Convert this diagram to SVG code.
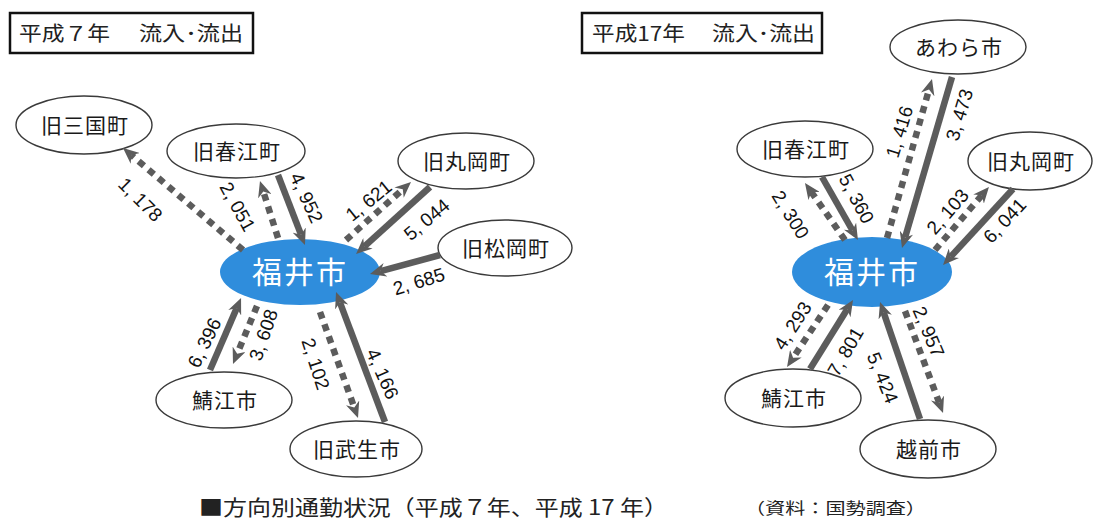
<svg xmlns="http://www.w3.org/2000/svg" width="1096" height="521" viewBox="0 0 1096 521">
<style>
.bg{fill:#ffffff}
.node ellipse{fill:#ffffff;stroke:#3a3a3a;stroke-width:1.4}
.node text{font-family:"Noto Sans CJK JP",sans-serif;font-size:21px;fill:#1a1a1a;text-anchor:middle;letter-spacing:1px}
.hub ellipse{fill:#2f8ddc;stroke:none}
.hub text{font-family:"Noto Sans CJK JP",sans-serif;font-size:30px;fill:#ffffff;text-anchor:middle;letter-spacing:2px}
.solid{stroke:#5c5c5c;stroke-width:6.5;fill:none;marker-end:url(#ah)}
.dot{stroke:#5c5c5c;stroke-width:6.5;fill:none;stroke-dasharray:7 6;marker-end:url(#ah)}
.lbl{font-family:"Liberation Sans",sans-serif;font-size:19px;fill:#111;text-anchor:middle}
.title rect{fill:#ffffff;stroke:#111;stroke-width:2.5}
.title text{font-family:"Noto Sans CJK JP",sans-serif;font-size:20px;fill:#222}
.cap{font-family:"Noto Sans CJK JP",sans-serif;fill:#222}
</style>
<defs>
<marker id="ah" viewBox="0 0 16 14" markerWidth="16" markerHeight="14" refX="5" refY="7" orient="auto" markerUnits="userSpaceOnUse">
<path d="M0,0 L16,7 L0,14 L5,7 Z" fill="#5c5c5c"/>
</marker>
</defs>
<rect class="bg" x="0" y="0" width="1096" height="521"/>

<g id="title-h7" class="title">
<rect x="10" y="13" width="243" height="40"/>
<text x="19" y="41" textLength="91" lengthAdjust="spacingAndGlyphs">平成７年</text>
<text x="139" y="41" textLength="104" lengthAdjust="spacingAndGlyphs">流入･流出</text>
</g>
<g id="title-h17" class="title">
<rect x="582" y="13" width="240" height="40"/>
<text x="592" y="41" textLength="93" lengthAdjust="spacingAndGlyphs">平成17年</text>
<text x="712" y="41" textLength="103" lengthAdjust="spacingAndGlyphs">流入･流出</text>
</g>

<!-- left nodes -->
<g id="l-fukui" class="hub"><ellipse cx="300" cy="272" rx="80" ry="33"/><text x="300" y="283">福井市</text></g>
<g id="l-mikuni" class="node"><ellipse cx="84" cy="125" rx="68" ry="29"/><text x="85" y="133">旧三国町</text></g>
<g id="l-harue" class="node"><ellipse cx="236" cy="151" rx="69" ry="27"/><text x="237" y="159">旧春江町</text></g>
<g id="l-maruoka" class="node"><ellipse cx="466" cy="161" rx="68" ry="28"/><text x="467" y="169">旧丸岡町</text></g>
<g id="l-matsuoka" class="node"><ellipse cx="505" cy="248" rx="67" ry="28"/><text x="506" y="256">旧松岡町</text></g>
<g id="l-sabae" class="node"><ellipse cx="224" cy="400" rx="68" ry="28"/><text x="225" y="408">鯖江市</text></g>
<g id="l-takefu" class="node"><ellipse cx="356" cy="449" rx="66" ry="28"/><text x="357" y="457">旧武生市</text></g>

<!-- right nodes -->
<g id="r-fukui" class="hub"><ellipse cx="872" cy="272" rx="80" ry="35"/><text x="872" y="283">福井市</text></g>
<g id="r-awara" class="node"><ellipse cx="958" cy="47" rx="68" ry="27"/><text x="959" y="55">あわら市</text></g>
<g id="r-harue" class="node"><ellipse cx="805" cy="149" rx="68" ry="28"/><text x="806" y="157">旧春江町</text></g>
<g id="r-maruoka" class="node"><ellipse cx="1030" cy="161" rx="62" ry="29"/><text x="1031" y="169">旧丸岡町</text></g>
<g id="r-sabae" class="node"><ellipse cx="793" cy="398" rx="68" ry="29"/><text x="794" y="406">鯖江市</text></g>
<g id="r-echizen" class="node"><ellipse cx="928" cy="449" rx="68" ry="29"/><text x="929" y="457">越前市</text></g>

<g id="connectors">
<!-- left -->
<line class="dot" x1="243" y1="250" x2="131.4" y2="155.1"/>
<text class="lbl" transform="translate(140,200) rotate(45)" dy="6">1, 178</text>
<line class="dot" x1="278" y1="238" x2="263.3" y2="191.5"/>
<text class="lbl" transform="translate(237,207) rotate(61)" dy="6">2, 051</text>
<line class="solid" x1="278" y1="175" x2="301" y2="234.7"/>
<text class="lbl" transform="translate(306,198) rotate(65)" dy="6">4, 952</text>
<line class="dot" x1="346" y1="240" x2="402.8" y2="189.3"/>
<text class="lbl" transform="translate(369,201) rotate(-39)" dy="6">1, 621</text>
<line class="solid" x1="430" y1="187" x2="364.2" y2="246.6"/>
<text class="lbl" transform="translate(427,220) rotate(-40)" dy="6">5, 044</text>
<line class="solid" x1="440" y1="255" x2="380.6" y2="271.1"/>
<text class="lbl" transform="translate(419,282) rotate(-17)" dy="6">2, 685</text>
<line class="solid" x1="210" y1="370" x2="236.7" y2="308.1"/>
<text class="lbl" transform="translate(205,343) rotate(-64)" dy="6">6, 396</text>
<line class="dot" x1="257" y1="306" x2="237.2" y2="353.8"/>
<text class="lbl" transform="translate(264,335) rotate(-71)" dy="6">3, 608</text>
<line class="dot" x1="320" y1="312" x2="354.3" y2="407.6"/>
<text class="lbl" transform="translate(315,364) rotate(72)" dy="6">2, 102</text>
<line class="solid" x1="385" y1="422" x2="339.9" y2="302.3"/>
<text class="lbl" transform="translate(382,374) rotate(66)" dy="6">4, 166</text>
<!-- right -->
<line class="dot" x1="887" y1="238" x2="929" y2="89.6"/>
<text class="lbl" transform="translate(900,132) rotate(-73)" dy="6">1, 416</text>
<line class="solid" x1="952" y1="77" x2="905.1" y2="237.4"/>
<text class="lbl" transform="translate(960,115) rotate(-73)" dy="6">3, 473</text>
<line class="dot" x1="845" y1="240" x2="811.3" y2="192"/>
<text class="lbl" transform="translate(790,215) rotate(58)" dy="6">2, 300</text>
<line class="solid" x1="822" y1="177" x2="852.5" y2="230.5"/>
<text class="lbl" transform="translate(856,199) rotate(62)" dy="6">5, 360</text>
<line class="dot" x1="935" y1="250" x2="981.8" y2="195.3"/>
<text class="lbl" transform="translate(948,212) rotate(-49)" dy="6">2, 103</text>
<line class="solid" x1="1013" y1="189" x2="950.5" y2="256.9"/>
<text class="lbl" transform="translate(1005,221) rotate(-47)" dy="6">6, 041</text>
<line class="dot" x1="828" y1="305" x2="793.1" y2="357.8"/>
<text class="lbl" transform="translate(793,326) rotate(-57)" dy="6">4, 293</text>
<line class="solid" x1="810" y1="369" x2="847.2" y2="309.3"/>
<text class="lbl" transform="translate(846,352) rotate(-60)" dy="6">7, 801</text>
<line class="solid" x1="920" y1="419" x2="883.6" y2="312.4"/>
<text class="lbl" transform="translate(882,378) rotate(68)" dy="6">5, 424</text>
<line class="dot" x1="905" y1="311" x2="939.2" y2="402.7"/>
<text class="lbl" transform="translate(928,332) rotate(67)" dy="6">2, 957</text>
</g>

<g id="caption">
<text class="cap" x="199" y="515" font-size="21" textLength="469" lengthAdjust="spacingAndGlyphs">■方向別通勤状況（平成７年、平成 17 年）</text>
<text class="cap" x="745" y="514" font-size="16" textLength="181" lengthAdjust="spacingAndGlyphs">（資料：国勢調査）</text>
</g>
</svg>
